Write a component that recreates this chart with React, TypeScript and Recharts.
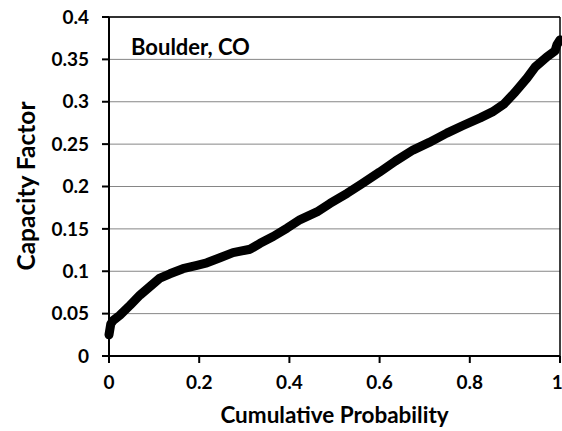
import React from "react";
import {
  LineChart,
  Line,
  XAxis,
  YAxis,
  CartesianGrid,
  ReferenceLine,
} from "recharts";

const probability = [0, 0.004, 0.0095, 0.024, 0.047, 0.069, 0.091, 0.113, 0.135, 0.164, 0.195, 0.217, 0.246, 0.275, 0.313, 0.335, 0.364, 0.395, 0.424, 0.461, 0.49, 0.528, 0.56, 0.6, 0.635, 0.674, 0.71, 0.749, 0.785, 0.823, 0.85, 0.875, 0.9, 0.927, 0.945, 0.971, 0.989, 0.993, 1.0];
const capacityFactor = [0.025, 0.038, 0.042, 0.048, 0.06, 0.072, 0.082, 0.092, 0.097, 0.103, 0.107, 0.11, 0.116, 0.122, 0.126, 0.133, 0.141, 0.151, 0.161, 0.17, 0.18, 0.192, 0.203, 0.217, 0.23, 0.243, 0.252, 0.263, 0.272, 0.281, 0.288, 0.297, 0.311, 0.328, 0.341, 0.353, 0.36, 0.367, 0.373];

const xTicks = [0, 0.2, 0.4, 0.6, 0.8, 1];
const yTicks = [0, 0.05, 0.1, 0.15, 0.2, 0.25, 0.3, 0.35, 0.4];

const data = probability.map((p, i) => ({ p, v: capacityFactor[i] }));

const FONT = "Lato, 'Open Sans', sans-serif";

export default function App() {
  return (
    <div style={{ position: "absolute", left: 0, top: 0, width: 562, height: 431, background: "#fff" }}>
      <LineChart
        width={562}
        height={431}
        data={data}
        margin={{ top: 17, right: 2, left: 0, bottom: 0 }}
      >
        <CartesianGrid horizontal vertical={false} stroke="#868686" strokeWidth={1} />
        <XAxis
          dataKey="p"
          type="number"
          domain={[0, 1]}
          ticks={xTicks}
          tickFormatter={(t: number) => String(t)}
          height={75}
          stroke="#000"
          strokeWidth={2}
          tickSize={7}
          tickMargin={13}
          tick={{ fill: "#000", fontSize: 19, fontWeight: 700, fontFamily: FONT }}
        />
        <YAxis
          type="number"
          domain={[0, 0.4]}
          ticks={yTicks}
          tickFormatter={(t: number) => String(t)}
          width={109}
          stroke="#000"
          strokeWidth={2}
          tickSize={7}
          tickMargin={13}
          tick={{ fill: "#000", fontSize: 19, fontWeight: 700, fontFamily: FONT }}
        />
        <ReferenceLine y={0.4} stroke="#000" strokeWidth={1.5} />
        <ReferenceLine x={1} stroke="#000" strokeWidth={1.5} />
        <Line
          dataKey="v"
          type="linear"
          stroke="#000"
          strokeWidth={9}
          strokeLinejoin="round"
          strokeLinecap="round"
          dot={false}
          isAnimationActive={false}
        />
        <text x={131} y={55} style={{ fill: "#000", fontSize: 22, fontWeight: 700, fontFamily: FONT }}>
          Boulder, CO
        </text>
        <text
          x={334.5}
          y={414}
          textAnchor="middle"
          dominantBaseline="central"
          style={{ fill: "#000", fontSize: 22.5, fontWeight: 700, fontFamily: FONT }}
        >
          Cumulative Probability
        </text>
        <text
          x={25}
          y={186}
          transform="rotate(-90 25 186)"
          textAnchor="middle"
          dominantBaseline="central"
          style={{ fill: "#000", fontSize: 24.5, fontWeight: 700, fontFamily: FONT }}
        >
          Capacity Factor
        </text>
      </LineChart>
    </div>
  );
}
